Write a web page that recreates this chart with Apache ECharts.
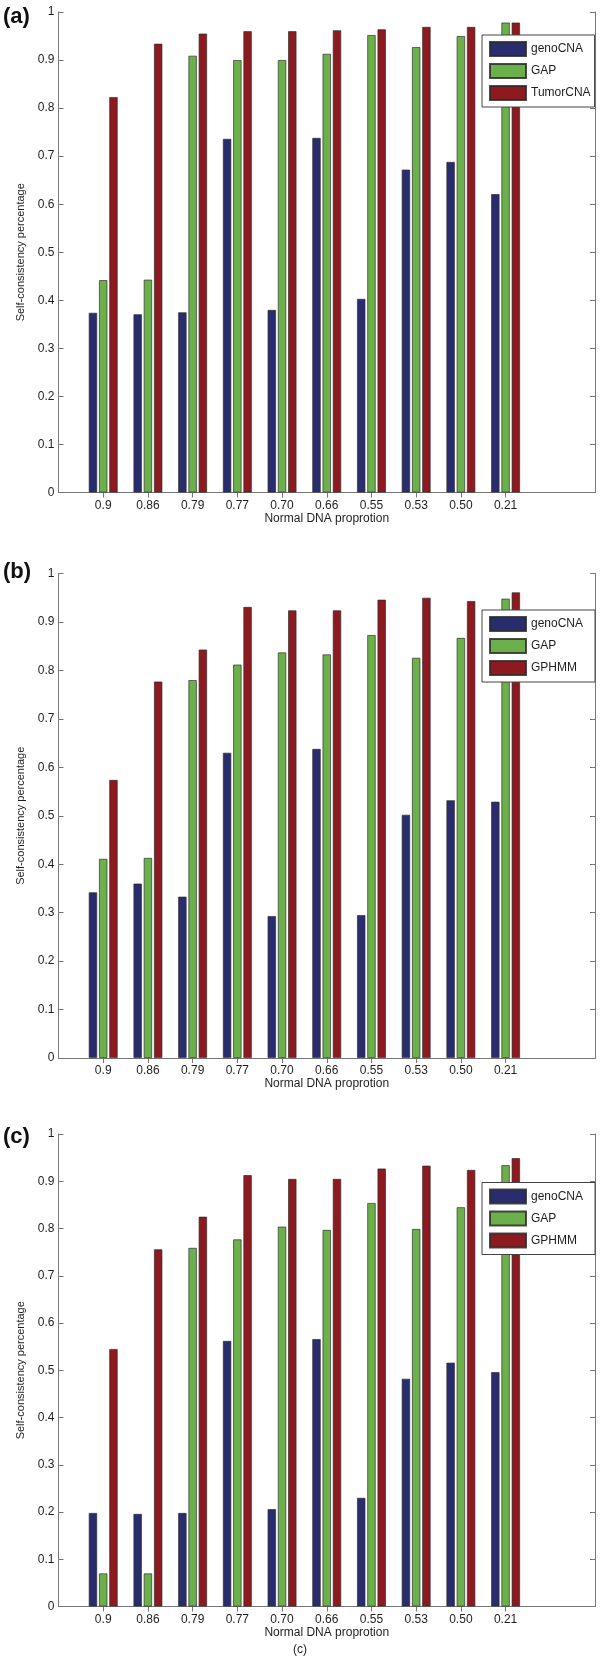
<!DOCTYPE html>
<html>
<head>
<meta charset="utf-8">
<script src="https://cdn.jsdelivr.net/npm/echarts@6/dist/echarts.min.js"></script>
<style>
html,body{margin:0;padding:0;background:#fff;}
#chart{width:600px;height:1664px;}
</style>
</head>
<body>
<div id="chart"></div>
<script>
// ---- data ----
const categories = ['0.9', '0.86', '0.79', '0.77', '0.70', '0.66', '0.55', '0.53', '0.50', '0.21'];

const seriesNamesA = ['genoCNA', 'GAP', 'TumorCNA'];
const genoA  = [0.374, 0.371, 0.375, 0.736, 0.380, 0.738, 0.403, 0.672, 0.688, 0.621];
const gapA   = [0.442, 0.443, 0.909, 0.900, 0.900, 0.913, 0.952, 0.927, 0.950, 0.978];
const tumorA = [0.823, 0.934, 0.955, 0.960, 0.960, 0.962, 0.964, 0.969, 0.969, 0.978];

const seriesNamesB = ['genoCNA', 'GAP', 'GPHMM'];
const genoB  = [0.342, 0.360, 0.333, 0.630, 0.293, 0.638, 0.295, 0.502, 0.532, 0.529];
const gapB   = [0.411, 0.413, 0.780, 0.812, 0.837, 0.833, 0.873, 0.826, 0.867, 0.948];
const gphmmB = [0.574, 0.777, 0.843, 0.931, 0.924, 0.924, 0.946, 0.950, 0.943, 0.961];

const seriesNamesC = ['genoCNA', 'GAP', 'GPHMM'];
const genoC  = [0.198, 0.196, 0.198, 0.562, 0.206, 0.566, 0.230, 0.482, 0.516, 0.496];
const gapC   = [0.070, 0.070, 0.759, 0.777, 0.804, 0.797, 0.854, 0.799, 0.845, 0.934];
const gphmmC = [0.545, 0.756, 0.825, 0.913, 0.905, 0.905, 0.927, 0.933, 0.924, 0.949];

const panelLabels = ['(a)', '(b)', '(c)'];
const xAxisTitle = 'Normal DNA proprotion';
const yAxisTitle = 'Self-consistency percentage';
const caption = '(c)';

// ---- layout / style ----
const FONT = "'Liberation Sans', Arial, Helvetica, sans-serif";
const colors = ['#2a2d6d', '#6bb04b', '#8c1a1f'];
const axisColor = '#777';
const textColor = '#1e1e1e';

// x positions 0..12 : categories sit at 1..10 (MATLAB style)
const xLabels = [''].concat(categories, ['', '']);
const pad = a => [null].concat(a, [null, null]);

const panels = [
  { top: 12,    height: 480.5, names: seriesNamesA, data: [genoA, gapA, tumorA], legendTop: 35,    labelY: 17 },
  { top: 573.5, height: 484.5, names: seriesNamesB, data: [genoB, gapB, gphmmB], legendTop: 610,   labelY: 572 },
  { top: 1134,  height: 472.5, names: seriesNamesC, data: [genoC, gapC, gphmmC], legendTop: 1182.5, labelY: 1137 }
];

const grids = [], xAxes = [], yAxes = [], series = [], legends = [], graphics = [];
const tickShow = (idx) => idx >= 1 && idx <= categories.length;

panels.forEach((p, i) => {
  grids.push({ left: 58.5, right: 5, top: p.top, height: p.height, containLabel: false, outerBoundsMode: 'none' });

  const xCommon = {
    type: 'category', gridIndex: i, data: xLabels, boundaryGap: false,
    axisLine: { show: true, lineStyle: { color: axisColor, width: 1 } },
    axisTick: { show: true, inside: true, length: 5, interval: tickShow, lineStyle: { color: axisColor } },
    splitLine: { show: false }
  };
  xAxes.push(Object.assign({}, xCommon, {
    position: 'bottom',
    axisLabel: { interval: 0, color: textColor, fontSize: 12, fontFamily: FONT, margin: 7 },
    name: xAxisTitle, nameLocation: 'middle', nameGap: 20,
    nameTextStyle: { color: textColor, fontSize: 12, fontFamily: FONT }
  }));

  const yCommon = {
    type: 'value', gridIndex: i, min: 0, max: 1, interval: 0.1,
    axisLine: { show: true, lineStyle: { color: axisColor, width: 1 } },
    axisTick: { show: true, inside: true, length: 5, lineStyle: { color: axisColor } },
    splitLine: { show: false }
  };
  yAxes.push(Object.assign({}, yCommon, {
    position: 'left',
    axisLabel: { color: textColor, fontSize: 12, fontFamily: FONT, margin: 4 },
    name: yAxisTitle, nameLocation: 'middle', nameGap: 27,
    nameTextStyle: { color: textColor, fontSize: 11, fontFamily: FONT }
  }));

  p.names.forEach((nm, k) => {
    series.push({
      type: 'bar', name: nm, xAxisIndex: i, yAxisIndex: i,
      data: pad(p.data[k]),
      barWidth: 8.4, barGap: '22%',
      itemStyle: { color: colors[k], borderColor: 'rgba(45,45,45,0.85)', borderWidth: 0.8 },
      emphasis: { disabled: true },
      animation: false
    });
  });

  const longest = Math.max(...p.names.map(n => n.length));
  legends.push({
    data: p.names, orient: 'vertical', left: 482, top: p.legendTop,
    icon: 'rect', itemWidth: 36, itemHeight: 14, itemGap: 6,
    padding: [6, longest >= 8 ? 4 : 12, 6, 7],
    backgroundColor: '#fff', borderColor: '#444', borderWidth: 1,
    textStyle: { color: textColor, fontSize: 12, fontFamily: FONT },
    selectedMode: false
  });

  graphics.push({
    type: 'text', left: 3, top: p.labelY - 11,
    style: { text: panelLabels[i], font: 'bold 22px ' + FONT, fill: '#111' }
  });
});

// mirrored top / right axes (box with inward ticks)
panels.forEach((p, i) => {
  xAxes.push({
    type: 'category', gridIndex: i, data: xLabels, boundaryGap: false, position: 'top',
    axisLine: { show: true, lineStyle: { color: axisColor, width: 1 } },
    axisTick: { show: true, inside: true, length: 5, interval: tickShow, lineStyle: { color: axisColor } },
    axisLabel: { show: false }, splitLine: { show: false }
  });
  yAxes.push({
    type: 'value', gridIndex: i, min: 0, max: 1, interval: 0.1, position: 'right',
    axisLine: { show: true, lineStyle: { color: axisColor, width: 1 } },
    axisTick: { show: true, inside: true, length: 5, lineStyle: { color: axisColor } },
    axisLabel: { show: false }, splitLine: { show: false }
  });
});

graphics.push({
  type: 'text', left: 'center', top: 1644,
  style: { text: caption, font: '12px ' + FONT, fill: textColor, x: 0 }
});

const chart = echarts.init(document.getElementById('chart'), null, { renderer: 'canvas' });
chart.setOption({
  backgroundColor: '#fff',
  animation: false,
  grid: grids,
  xAxis: xAxes,
  yAxis: yAxes,
  legend: legends,
  series: series,
  graphic: graphics
});
</script>
</body>
</html>
